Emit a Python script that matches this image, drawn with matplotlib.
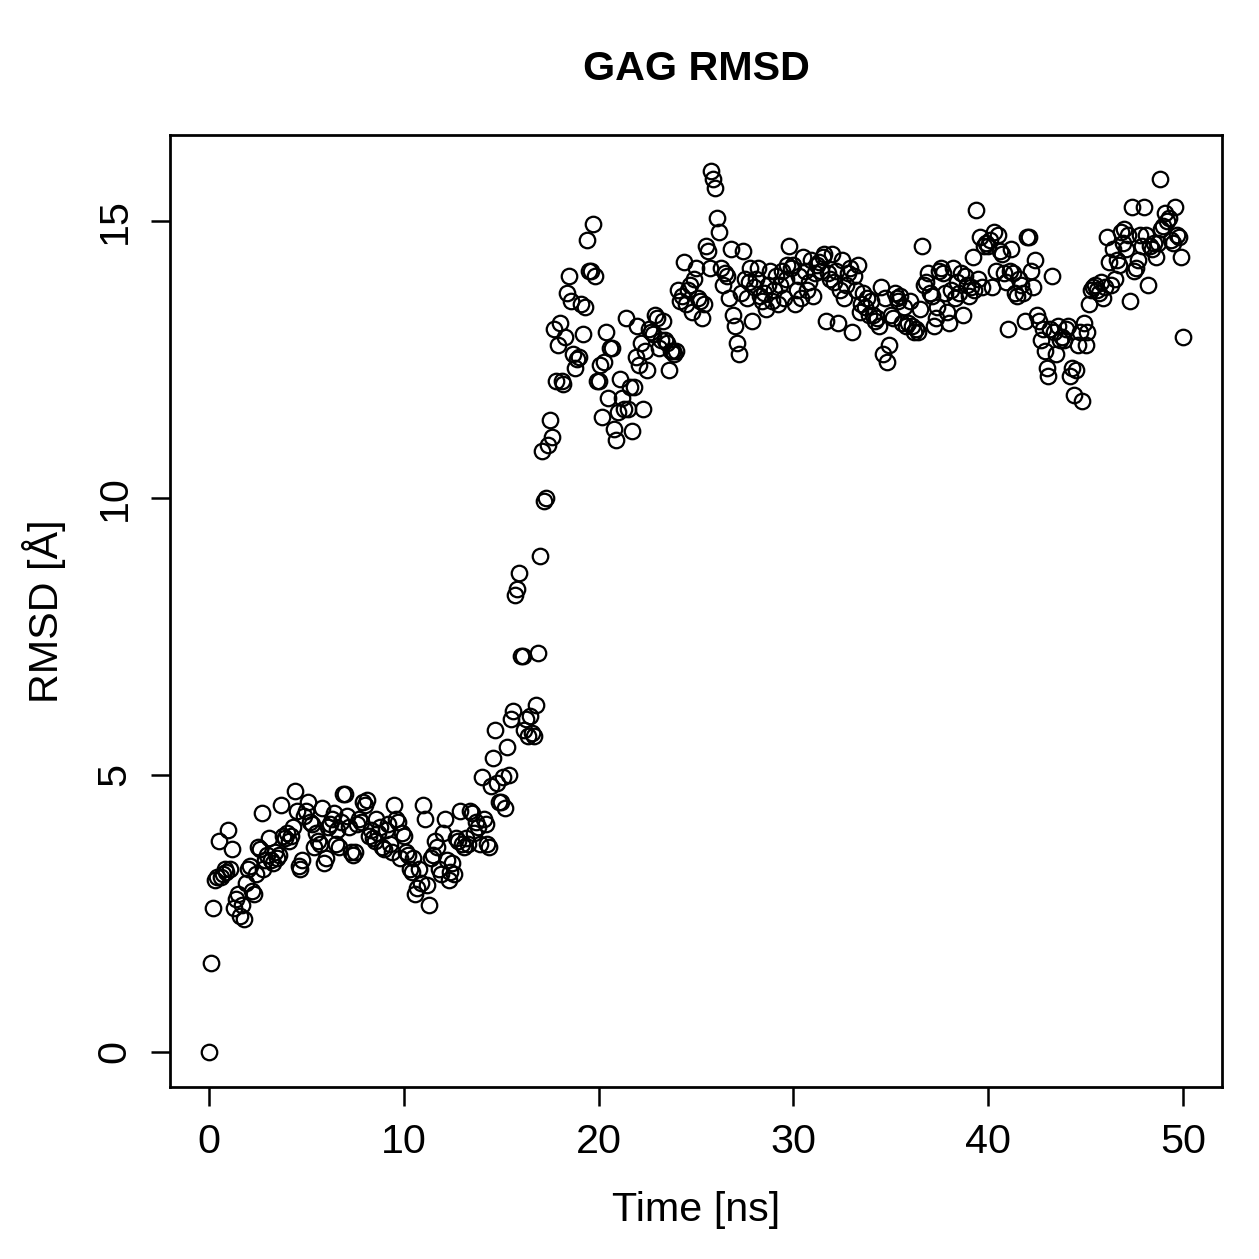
import numpy as np
import matplotlib
matplotlib.use("Agg")
import matplotlib.pyplot as plt

plt.rcParams['font.family'] = ['Liberation Sans', 'DejaVu Sans']

# RMSD values, one per 0.1 ns (rows = 1 ns)
rmsd = [
    0.0, 1.6, 2.6, 3.1, 3.15, 3.8, 3.15, 3.2, 3.3, 3.25,
    4.0, 3.3, 3.65, 2.6, 2.75, 2.85, 2.45, 2.65, 2.4, 3.05,
    3.3, 3.35, 2.9, 2.85, 3.2, 3.7, 3.65, 4.3, 3.3, 3.45,
    3.55, 3.85, 3.45, 3.4, 3.6, 3.5, 3.55, 4.45, 3.9, 3.85,
    3.95, 3.8, 3.9, 4.05, 4.7, 4.35, 3.35, 3.3, 3.45, 4.25,
    4.35, 4.5, 4.15, 4.1, 3.7, 3.95, 3.8, 3.75, 4.4, 3.4,
    3.5, 4.05, 4.1, 4.2, 4.3, 3.75, 4.0, 3.7, 4.15, 4.65,
    4.65, 4.25, 4.05, 3.6, 3.55, 3.6, 4.1, 4.2, 4.15, 4.5,
    4.45, 4.55, 3.9, 4.0, 3.85, 3.8, 4.2, 3.95, 4.05, 3.7,
    3.65, 4.0, 4.1, 3.75, 3.6, 4.45, 4.2, 4.15, 3.5, 3.95,
    3.9, 3.6, 3.55, 3.3, 3.25, 3.5, 2.85, 2.95, 3.3, 3.05,
    4.45, 4.2, 3.0, 2.65, 3.5, 3.55, 3.8, 3.7, 3.3, 3.2,
    3.95, 4.2, 3.45, 3.1, 3.25, 3.4, 3.2, 3.85, 3.8, 4.35,
    3.75, 3.7, 3.85, 3.75, 4.35, 4.3, 3.95, 4.15, 4.05, 3.75,
    4.95, 4.2, 4.1, 3.75, 3.7, 4.8, 5.3, 5.8, 4.85, 4.5,
    4.5, 4.95, 4.4, 5.5, 5.0, 6.0, 6.15, 8.25, 8.35, 8.65,
    7.15, 7.15, 5.8, 6.0, 5.7, 6.05, 5.75, 5.7, 6.25, 7.2,
    8.95, 10.85, 9.95, 10.0, 10.95, 11.4, 11.1, 13.05, 12.1, 12.75,
    13.15, 12.1, 12.05, 12.9, 13.7, 14.0, 13.55, 12.6, 12.35, 12.5,
    12.55, 13.5, 12.95, 13.45, 14.65, 14.1, 14.1, 14.95, 14.0, 12.1,
    12.1, 12.4, 11.45, 12.45, 13.0, 11.8, 12.7, 12.7, 11.25, 11.05,
    11.55, 12.15, 11.8, 11.6, 13.25, 11.6, 12.0, 11.2, 12.0, 12.55,
    13.1, 12.4, 12.8, 11.6, 12.65, 12.3, 13.05, 13.0, 12.95, 13.3,
    13.25, 12.7, 12.85, 13.2, 12.85, 12.8, 12.3, 12.65, 12.65, 12.6,
    12.65, 13.75, 13.55, 13.65, 14.25, 13.5, 13.75, 13.85, 13.35, 13.95,
    14.15, 13.6, 13.55, 13.25, 13.5, 14.55, 14.45, 14.15, 15.9, 15.75,
    15.6, 15.05, 14.8, 14.15, 13.85, 14.05, 14.0, 13.6, 14.5, 13.3,
    13.1, 12.8, 12.6, 13.7, 14.45, 13.95, 13.6, 13.9, 14.15, 13.2,
    13.8, 13.95, 14.15, 13.65, 13.55, 13.7, 13.4, 13.85, 14.1, 13.55,
    13.75, 14.0, 13.5, 13.85, 14.1, 13.6, 13.95, 14.2, 14.55, 14.15,
    14.2, 13.5, 13.75, 14.0, 13.6, 14.35, 14.1, 13.75, 13.9, 14.3,
    13.65, 14.05, 14.2, 14.25, 14.1, 14.35, 14.4, 13.2, 14.05, 13.95,
    14.4, 13.9, 14.1, 13.15, 13.75, 14.3, 13.6, 13.85, 14.05, 14.15,
    13.0, 14.0, 13.75, 14.2, 13.35, 13.5, 13.7, 13.45, 13.6, 13.3,
    13.55, 13.3, 13.2, 13.25, 13.1, 13.8, 12.6, 13.6, 12.45, 12.75,
    13.3, 13.25, 13.7, 13.6, 13.55, 13.65, 13.15, 13.45, 13.1, 13.15,
    13.55, 13.1, 13.0, 13.05, 13.0, 13.4, 14.55, 13.85, 13.9, 14.05,
    13.7, 13.65, 13.1, 13.25, 13.45, 14.1, 14.15, 14.05, 13.7, 13.35,
    13.15, 13.75, 14.15, 13.6, 13.9, 13.7, 14.05, 13.3, 14.0, 13.85,
    13.65, 13.8, 14.35, 13.75, 15.2, 13.95, 14.7, 13.8, 14.55, 14.6,
    14.55, 14.65, 13.8, 14.8, 14.1, 14.75, 14.45, 14.4, 14.05, 13.9,
    13.05, 14.1, 14.5, 14.05, 13.7, 13.65, 13.95, 13.85, 13.7, 13.2,
    14.7, 14.7, 14.1, 13.8, 14.3, 13.3, 13.2, 12.85, 13.05, 12.65,
    12.35, 12.2, 13.05, 14.0, 13.0, 12.6, 13.1, 12.85, 12.9, 12.85,
    13.05, 13.1, 12.2, 12.35, 11.85, 12.3, 12.75, 13.0, 11.75, 13.15,
    12.75, 13.0, 13.5, 13.75, 13.8, 13.85, 13.75, 13.7, 13.9, 13.6,
    13.8, 14.7, 14.25, 13.85, 14.5, 13.95, 14.3, 14.2, 14.8, 14.6,
    14.85, 14.5, 14.75, 13.55, 15.25, 14.1, 14.15, 14.3, 14.75, 14.55,
    15.25, 14.75, 13.85, 14.55, 14.5, 14.6, 14.35, 14.6, 15.75, 14.85,
    14.9, 15.15, 15.0, 15.05, 14.65, 14.6, 15.25, 14.75, 14.7, 14.35,
    12.9,
]
time_ns = np.arange(len(rmsd)) * 0.1

fig = plt.figure(figsize=(1259 / 180, 1259 / 180), dpi=180)
ax = fig.add_axes([0.135, 0.1366, 0.8355, 0.7562])
ax.plot(time_ns, rmsd, 'o', mfc='none', mec='black', ms=6.2, mew=0.9)
ax.set_xlim(-2, 52)
ax.set_ylim(-0.64, 16.55)
ax.set_xticks([0, 10, 20, 30, 40, 50])
ax.set_yticks([0, 5, 10, 15])
ax.set_yticklabels(['0', '5', '10', '15'], rotation=90, va='center')
ax.tick_params(direction='out', length=7.5, width=1, labelsize=16.5, pad=7)
for s in ax.spines.values():
    s.set_linewidth(1.1)
ax.set_xlabel('Time [ns]', fontsize=16.5, labelpad=12)
ax.set_ylabel('RMSD [Å]', fontsize=16.5, labelpad=12)
fig.text(0.553, 0.945, 'GAG RMSD', ha='center', va='center', fontsize=16.5, fontweight='bold')
fig.savefig('out.png', dpi=180)
